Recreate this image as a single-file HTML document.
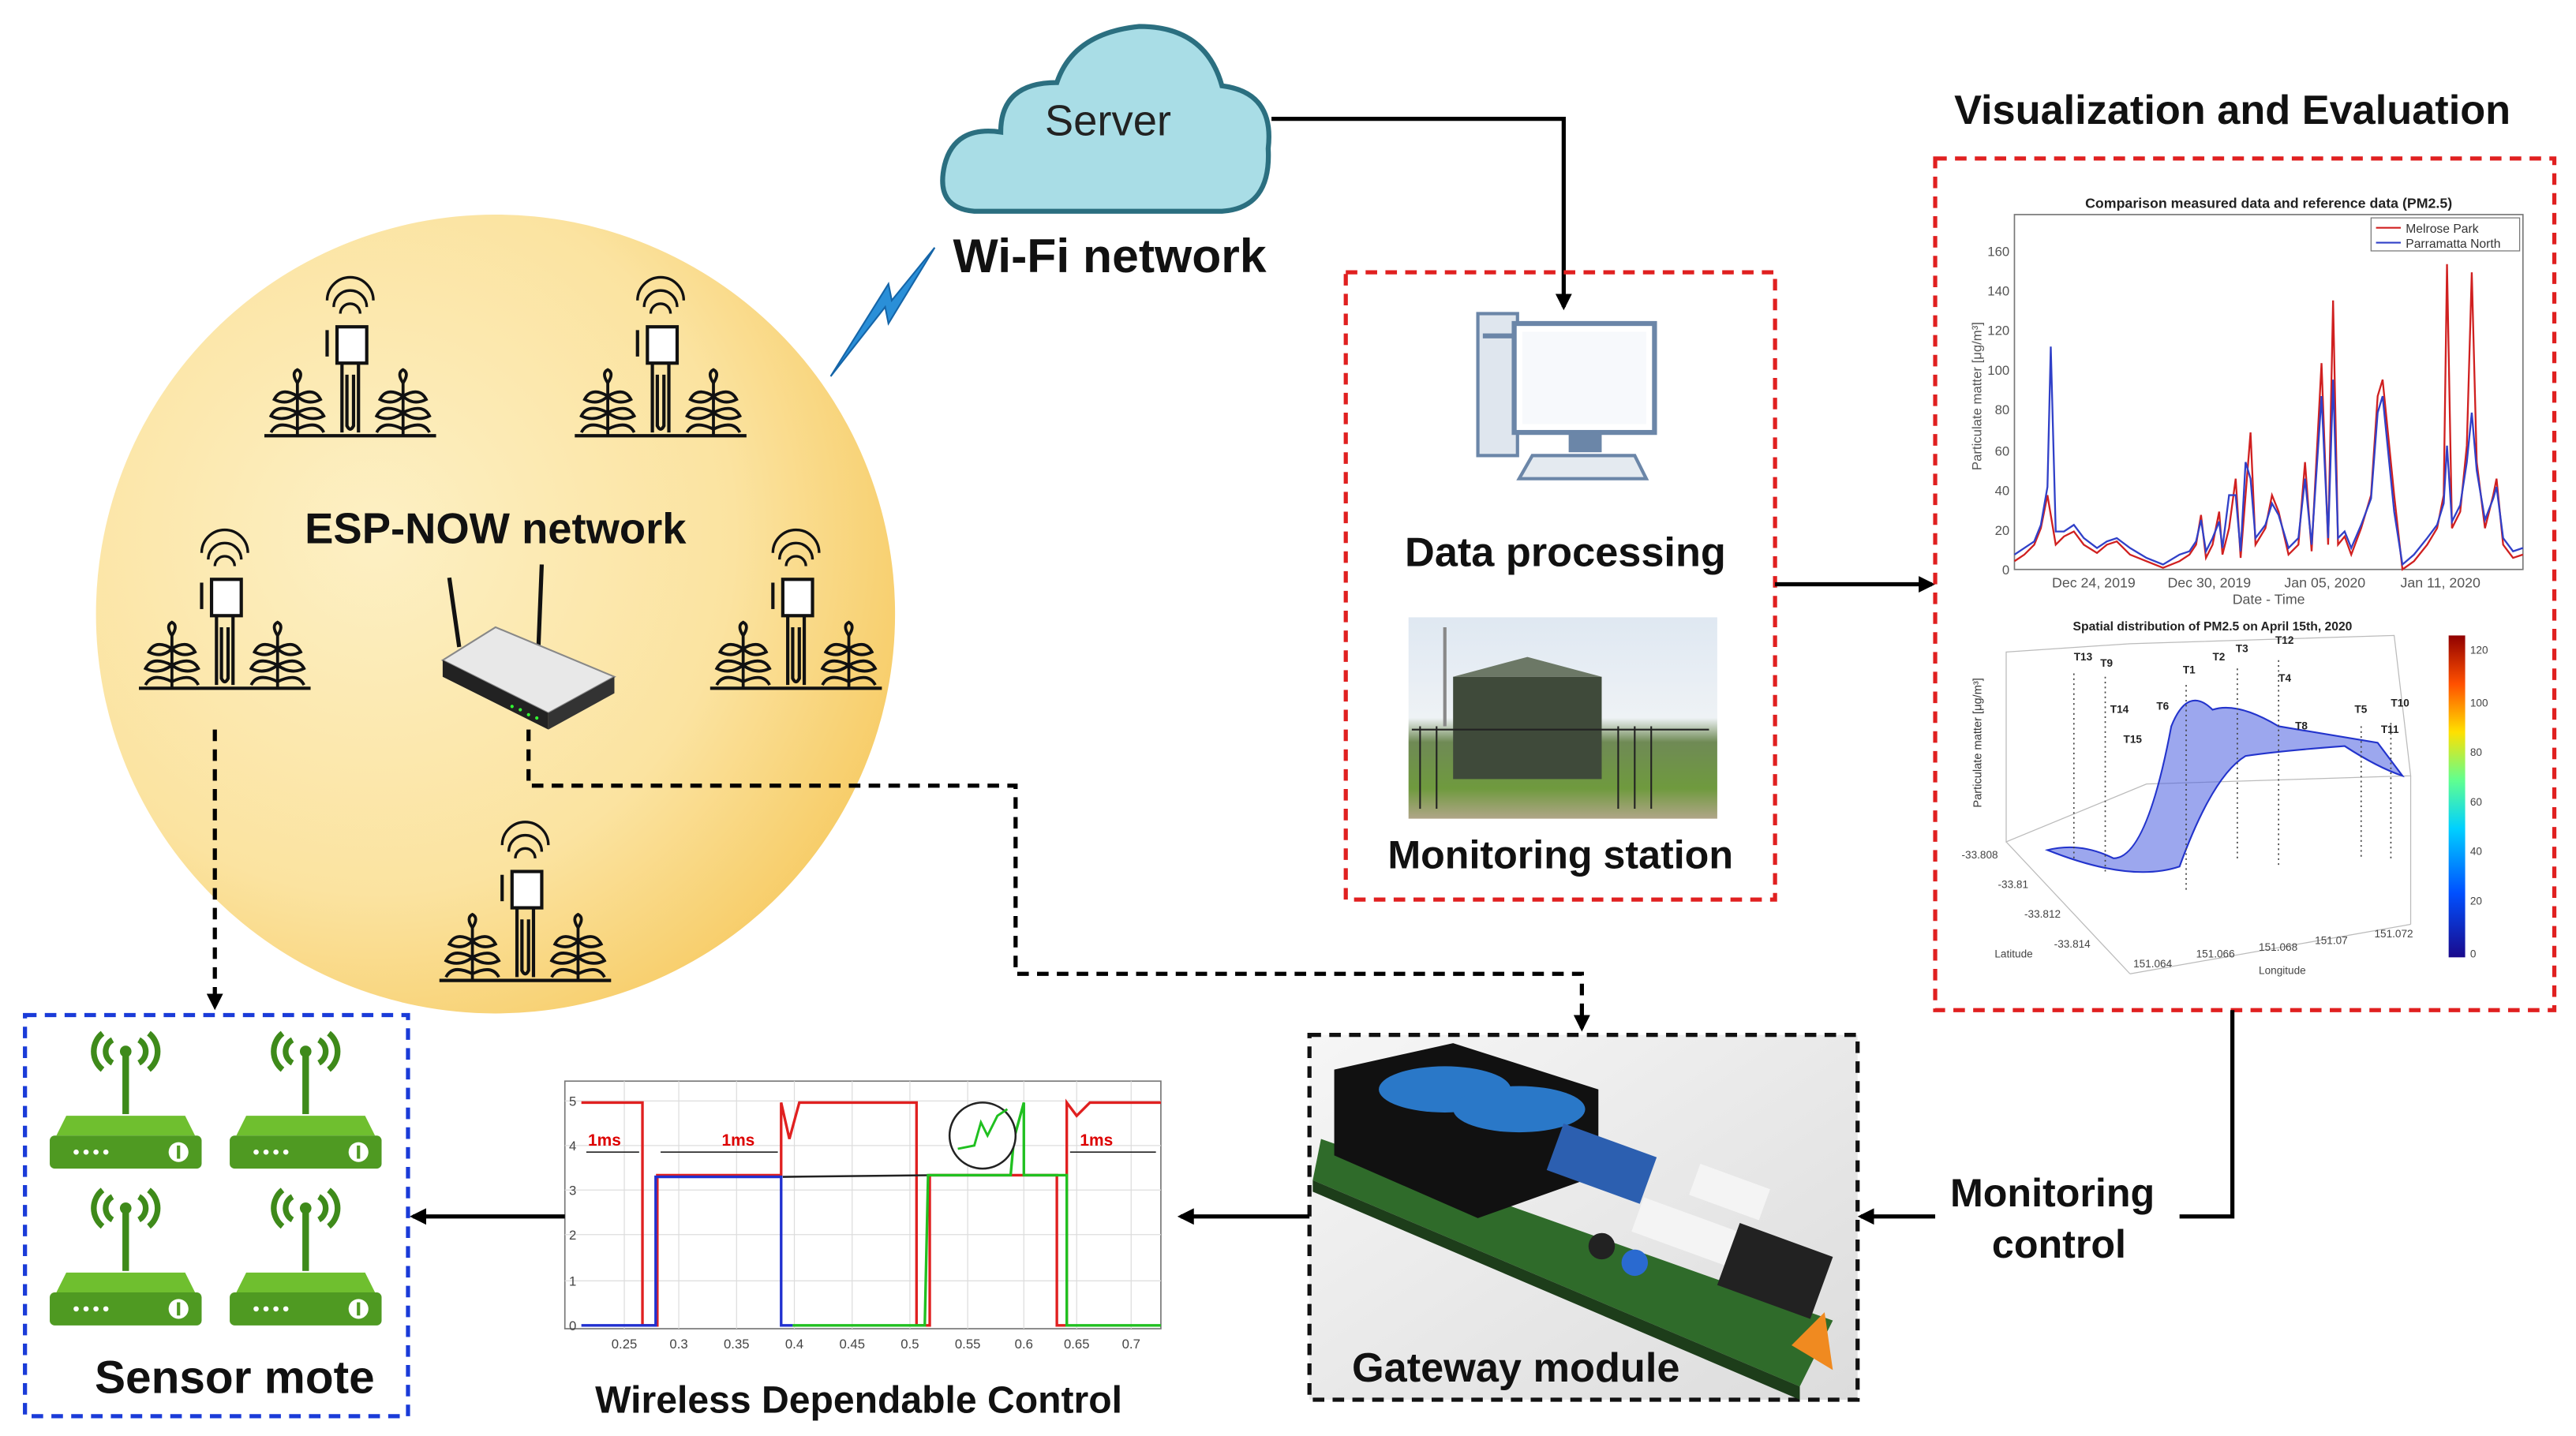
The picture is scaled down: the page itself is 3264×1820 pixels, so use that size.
<!DOCTYPE html>
<html><head><meta charset="utf-8"><style>
html,body{margin:0;padding:0;background:#fff;}
svg{display:block;}
text{font-family:"Liberation Sans",sans-serif;}
</style></head><body>
<svg width="3264" height="1820" viewBox="0 0 1560 870" xmlns="http://www.w3.org/2000/svg">
<defs>
<radialGradient id="yg" cx="0.35" cy="0.4" r="0.75">
<stop offset="0" stop-color="#fdf0c4"/><stop offset="0.6" stop-color="#fbe3a0"/><stop offset="1" stop-color="#f6c75a"/>
</radialGradient>
<linearGradient id="cb" x1="0" y1="0" x2="0" y2="1"><stop offset="0" stop-color="#1a0a8c"/><stop offset="0.2" stop-color="#0050ff"/><stop offset="0.4" stop-color="#00d0ff"/><stop offset="0.55" stop-color="#60ff90"/><stop offset="0.7" stop-color="#ffe000"/><stop offset="0.85" stop-color="#ff5000"/><stop offset="1" stop-color="#900000"/></linearGradient>
<linearGradient id="ph" x1="0" y1="0" x2="0" y2="1"><stop offset="0" stop-color="#dfe8f2"/><stop offset="0.5" stop-color="#eef2f5"/><stop offset="0.62" stop-color="#6f8a55"/><stop offset="0.85" stop-color="#6f9a3e"/><stop offset="1" stop-color="#b0a588"/></linearGradient>
<linearGradient id="pcbbg" x1="0" y1="0" x2="1" y2="1"><stop offset="0" stop-color="#f6f6f6"/><stop offset="1" stop-color="#dcdcdc"/></linearGradient>
<marker id="ah" markerWidth="10" markerHeight="10" refX="8" refY="5" orient="auto" markerUnits="userSpaceOnUse"><path d="M0,0 L10,5 L0,10 Z" fill="#000"/></marker>
<g id="sensor">
<path d="M-14,-40 a14,14 0 0 1 28,0" fill="none" stroke="#111" stroke-width="1.6"/>
<path d="M-10,-36 a10,10 0 0 1 20,0" fill="none" stroke="#111" stroke-width="1.6"/>
<path d="M-6,-32 a6,6 0 0 1 12,0" fill="none" stroke="#111" stroke-width="1.6"/>
<rect x="-8" y="-24" width="18" height="22" fill="#fff" stroke="#111" stroke-width="2"/>
<line x1="-14" y1="-22" x2="-14" y2="-6" stroke="#111" stroke-width="2"/>
<path d="M-5,-2 L-5,40 M5,-2 L5,40 M-2,5 L-2,36 Q0,40 2,36 L2,5" fill="none" stroke="#111" stroke-width="2"/>
<line x1="-52" y1="42" x2="52" y2="42" stroke="#111" stroke-width="2"/>
<g id="plant" fill="none" stroke="#111" stroke-width="1.8">
<line x1="-32" y1="42" x2="-32" y2="10"/>
<path d="M-32,18 q-10,-6 -14,2 q8,4 14,-2 M-32,18 q10,-6 14,2 q-8,4 -14,-2 M-32,28 q-12,-6 -16,2 q8,4 16,-2 M-32,28 q12,-6 16,2 q-8,4 -16,-2 M-32,38 q-12,-6 -16,2 M-32,38 q12,-6 16,2 M-32,10 q-4,-6 0,-8 q4,2 0,8"/>
</g>
<use href="#plant" x="64"/>
</g>
<g id="mote">
<path d="M-14,-52 a14,14 0 0 1 0,-22 M14,-52 a14,14 0 0 0 0,-22 M-8,-56 a8,8 0 0 1 0,-14 M8,-56 a8,8 0 0 0 0,-14" fill="none" stroke="#3e8a1a" stroke-width="3.5"/>
<circle cx="0" cy="-63" r="3.5" fill="#3e8a1a"/>
<rect x="-2" y="-63" width="4" height="38" fill="#3e8a1a"/>
<path d="M-42,-12 L-36,-24 L36,-24 L42,-12 Z" fill="#6fbf2f"/>
<rect x="-46" y="-12" width="92" height="20" rx="3" fill="#4f9a22"/>
<circle cx="-30" cy="-2" r="1.6" fill="#fff"/><circle cx="-24" cy="-2" r="1.6" fill="#fff"/><circle cx="-18" cy="-2" r="1.6" fill="#fff"/><circle cx="-12" cy="-2" r="1.6" fill="#fff"/>
<circle cx="32" cy="-2" r="6" fill="#fff"/><rect x="31" y="-6" width="2" height="8" fill="#4f9a22"/>
</g>
</defs>

<circle cx="300" cy="372" r="242" fill="url(#yg)"/>
<use href="#sensor" x="212" y="222"/>
<use href="#sensor" x="400" y="222"/>
<use href="#sensor" x="136" y="375"/>
<use href="#sensor" x="482" y="375"/>
<use href="#sensor" x="318" y="552"/>
<text x="300" y="329" font-size="26" font-weight="bold" text-anchor="middle" fill="#111">ESP-NOW network</text>
<line x1="278" y1="392" x2="272" y2="350" stroke="#111" stroke-width="2.5"/>
<line x1="326" y1="392" x2="328" y2="342" stroke="#111" stroke-width="2.5"/>
<path d="M268,400 L300,380 L372,410 L332,432 Z" fill="#e8e8e8" stroke="#888"/>
<path d="M268,400 L332,432 L332,442 L268,410 Z" fill="#222"/>
<path d="M332,432 L372,410 L372,420 L332,442 Z" fill="#333"/>
<g fill="#3f3"><circle cx="310" cy="428" r="1"/><circle cx="315" cy="430" r="1"/><circle cx="320" cy="433" r="1"/><circle cx="325" cy="435" r="1"/></g>

<path d="M503,228 L536,186 L538,196 L566,150 L540,182 L538,172 Z" fill="#2a8fd8" stroke="#1565a8" stroke-width="1"/>

<path d="M590,128 Q566,126 572,100 Q578,76 606,80 Q606,50 640,50 Q650,20 690,16 Q730,16 740,52 Q772,56 768,90 Q770,126 740,128 Z" fill="#a9dde6" stroke="#2b6f80" stroke-width="3"/>
<text x="671" y="82" font-size="26" text-anchor="middle" fill="#222">Server</text>
<text x="672" y="165" font-size="29" font-weight="bold" text-anchor="middle" fill="#111">Wi-Fi network</text>

<polyline points="770,72 947,72 947,186" fill="none" stroke="#000" stroke-width="2.5" marker-end="url(#ah)"/>

<rect x="815" y="165" width="260" height="380" fill="none" stroke="#e02020" stroke-width="2.5" stroke-dasharray="7,5"/>
<rect x="895" y="190" width="24" height="86" fill="#dfe6ee" stroke="#6b86a8" stroke-width="2"/>
<rect x="898" y="202" width="18" height="3" fill="#6b86a8"/>
<rect x="917" y="196" width="85" height="66" fill="#fff" stroke="#6b86a8" stroke-width="3"/>
<rect x="922" y="201" width="75" height="56" fill="#f7f9fc"/>
<rect x="950" y="262" width="20" height="12" fill="#6b86a8"/>
<path d="M928,276 L990,276 L997,290 L920,290 Z" fill="#e4eaf0" stroke="#6b86a8" stroke-width="2"/>
<text x="948" y="343" font-size="25" font-weight="bold" text-anchor="middle" fill="#111">Data processing</text>
<rect x="853" y="374" width="187" height="122" fill="url(#ph)"/>
<rect x="880" y="410" width="90" height="62" fill="#3f4a3a"/>
<path d="M880,410 L925,398 L970,410 Z" fill="#6c7866"/>
<g stroke="#222" stroke-width="1"><line x1="860" y1="440" x2="860" y2="490"/><line x1="870" y1="440" x2="870" y2="490"/><line x1="980" y1="440" x2="980" y2="490"/><line x1="990" y1="440" x2="990" y2="490"/><line x1="1000" y1="440" x2="1000" y2="490"/><line x1="855" y1="442" x2="1035" y2="442"/></g>
<line x1="875" y1="380" x2="875" y2="440" stroke="#888" stroke-width="2"/>
<text x="945" y="526" font-size="24" font-weight="bold" text-anchor="middle" fill="#111">Monitoring station</text>

<line x1="1075" y1="354" x2="1170" y2="354" stroke="#000" stroke-width="2.5" marker-end="url(#ah)"/>

<text x="1352" y="75" font-size="25" font-weight="bold" text-anchor="middle" fill="#111">Visualization and Evaluation</text>
<rect x="1172" y="96" width="375" height="516" fill="none" stroke="#e02020" stroke-width="2.5" stroke-dasharray="7,5"/>

<text x="1374" y="126" font-size="8.5" font-weight="bold" text-anchor="middle" fill="#222">Comparison measured data and reference data (PM2.5)</text>
<rect x="1220" y="130" width="308" height="215" fill="#fff" stroke="#777" stroke-width="0.8"/>
<g font-size="8" fill="#555" text-anchor="end">
<text x="1217" y="348">0</text><text x="1217" y="324">20</text><text x="1217" y="300">40</text><text x="1217" y="276">60</text><text x="1217" y="251">80</text><text x="1217" y="227">100</text><text x="1217" y="203">120</text><text x="1217" y="179">140</text><text x="1217" y="155">160</text>
</g>
<text x="1200" y="240" font-size="8" fill="#555" text-anchor="middle" transform="rotate(-90 1200 240)">Particulate matter [μg/m³]</text>
<g font-size="8.5" fill="#555" text-anchor="middle"><text x="1268" y="356">Dec 24, 2019</text><text x="1338" y="356">Dec 30, 2019</text><text x="1408" y="356">Jan 05, 2020</text><text x="1478" y="356">Jan 11, 2020</text><text x="1374" y="366">Date - Time</text></g>
<polyline fill="none" stroke="#d02020" stroke-width="1.1" points="1220,340 1226,336 1232,330 1236,320 1240,300 1242,312 1245,330 1250,325 1256,322 1262,330 1270,335 1276,330 1282,328 1290,336 1300,340 1310,344 1320,340 1326,336 1330,330 1333,312 1336,338 1340,330 1344,310 1346,336 1350,320 1354,290 1357,338 1360,300 1363,262 1366,330 1372,320 1376,300 1380,310 1386,336 1392,330 1396,280 1400,334 1406,220 1410,330 1413,182 1416,330 1420,325 1424,336 1430,320 1436,300 1440,240 1443,230 1446,260 1450,300 1455,345 1462,340 1470,330 1476,320 1480,300 1482,160 1485,320 1490,310 1494,270 1497,165 1500,280 1505,320 1510,300 1512,290 1516,330 1522,338 1528,336"/>
<polyline fill="none" stroke="#3040c8" stroke-width="1.1" points="1220,336 1226,332 1232,328 1236,318 1240,295 1242,210 1245,322 1250,322 1256,318 1262,326 1270,332 1276,328 1282,326 1290,332 1300,338 1310,342 1320,336 1326,334 1330,328 1333,315 1336,334 1340,326 1344,316 1346,332 1350,300 1354,300 1357,334 1360,280 1363,290 1366,326 1372,318 1376,305 1380,312 1386,332 1392,326 1396,290 1400,330 1406,240 1410,326 1413,230 1416,326 1420,322 1424,332 1430,318 1436,302 1440,250 1443,240 1446,270 1450,310 1455,342 1462,336 1470,326 1476,318 1480,305 1482,270 1485,316 1490,306 1494,280 1497,250 1500,285 1505,315 1510,302 1512,295 1516,326 1522,334 1528,332"/>
<rect x="1436" y="132" width="90" height="20" fill="#fff" stroke="#777" stroke-width="0.6"/>
<line x1="1439" y1="138" x2="1454" y2="138" stroke="#d02020"/><line x1="1439" y1="147" x2="1454" y2="147" stroke="#3040c8"/>
<text x="1457" y="141" font-size="7.5" fill="#333">Melrose Park</text><text x="1457" y="150" font-size="7.5" fill="#333">Parramatta North</text>

<text x="1340" y="382" font-size="7.5" font-weight="bold" text-anchor="middle" fill="#222">Spatial distribution of PM2.5 on April 15th, 2020</text>
<g stroke="#bbb" stroke-width="0.6" fill="none">
<path d="M1215,395 L1290,390 L1450,385 L1460,470 L1300,475 L1215,510 Z"/>
<line x1="1215" y1="510" x2="1290" y2="590"/><line x1="1290" y1="590" x2="1460" y2="560"/><line x1="1460" y1="470" x2="1460" y2="560"/>
</g>
<path d="M1240,515 Q1260,510 1280,520 Q1300,520 1315,440 Q1325,415 1340,430 Q1355,425 1380,440 Q1410,445 1440,450 L1455,470 Q1440,465 1420,452 Q1380,455 1360,458 Q1340,470 1320,525 Q1290,535 1240,515 Z" fill="#4a5ee0" fill-opacity="0.55" stroke="#2233cc" stroke-width="1"/>
<g stroke="#444" stroke-width="0.8" stroke-dasharray="1,2"><line x1="1256" y1="408" x2="1256" y2="520"/><line x1="1275" y1="410" x2="1275" y2="530"/><line x1="1324" y1="415" x2="1324" y2="540"/><line x1="1355" y1="405" x2="1355" y2="520"/><line x1="1380" y1="400" x2="1380" y2="525"/><line x1="1430" y1="440" x2="1430" y2="520"/><line x1="1448" y1="438" x2="1448" y2="520"/></g>
<g font-size="6.5" font-weight="bold" fill="#222"><text x="1256" y="400">T13</text><text x="1272" y="404">T9</text><text x="1322" y="408">T1</text><text x="1340" y="400">T2</text><text x="1354" y="395">T3</text><text x="1378" y="390">T12</text><text x="1380" y="413">T4</text><text x="1278" y="432">T14</text><text x="1306" y="430">T6</text><text x="1286" y="450">T15</text><text x="1390" y="442">T8</text><text x="1426" y="432">T5</text><text x="1448" y="428">T10</text><text x="1442" y="444">T11</text></g>
<text x="1200" y="450" font-size="7" fill="#333" text-anchor="middle" transform="rotate(-90 1200 450)">Particulate matter [μg/m³]</text>
<g font-size="6.5" fill="#444"><text x="1188" y="520">-33.808</text><text x="1210" y="538">-33.81</text><text x="1226" y="556">-33.812</text><text x="1244" y="574">-33.814</text><text x="1208" y="580">Latitude</text><text x="1292" y="586">151.064</text><text x="1330" y="580">151.066</text><text x="1368" y="576">151.068</text><text x="1402" y="572">151.07</text><text x="1438" y="568">151.072</text><text x="1368" y="590">Longitude</text></g>
<rect x="1483" y="385" width="10" height="195" fill="url(#cb)" transform="rotate(180 1488 482.5)"/>
<g font-size="6.5" fill="#444"><text x="1496" y="396">120</text><text x="1496" y="428">100</text><text x="1496" y="458">80</text><text x="1496" y="488">60</text><text x="1496" y="518">40</text><text x="1496" y="548">20</text><text x="1496" y="580">0</text></g>

<polyline points="1352,612 1352,737 1320,737" fill="none" stroke="#000" stroke-width="2.5"/>
<text x="1243" y="731" font-size="24" font-weight="bold" text-anchor="middle" fill="#111">Monitoring</text>
<text x="1247" y="762" font-size="24" font-weight="bold" text-anchor="middle" fill="#111">control</text>
<line x1="1172" y1="737" x2="1127" y2="737" stroke="#000" stroke-width="2.5" marker-end="url(#ah)"/>

<rect x="793" y="627" width="332" height="221" fill="url(#pcbbg)" stroke="#111" stroke-width="2.5" stroke-dasharray="7,5"/>
<path d="M800,690 L1110,800 L1090,840 L795,715 Z" fill="#2f6b2a"/>
<path d="M795,715 L1090,840 L1090,848 L795,722 Z" fill="#1d3d1a"/>
<path d="M808,648 L880,632 L968,660 L968,712 L895,738 L808,700 Z" fill="#111"/>
<ellipse cx="875" cy="660" rx="40" ry="14" fill="#2a78c8"/><ellipse cx="920" cy="672" rx="40" ry="14" fill="#2a78c8"/>
<rect x="940" y="690" width="60" height="30" fill="#2c5fb0" transform="rotate(20 970 705)"/>
<rect x="990" y="735" width="60" height="22" fill="#f4f4f4" transform="rotate(20 1020 746)"/>
<rect x="1025" y="712" width="45" height="20" fill="#f4f4f4" transform="rotate(20 1047 722)"/>
<rect x="1045" y="750" width="60" height="40" fill="#222" transform="rotate(20 1075 770)"/>
<circle cx="990" cy="765" r="8" fill="#2a6ad0"/><circle cx="970" cy="755" r="8" fill="#222"/>
<path d="M1085,815 L1105,795 L1110,830 Z" fill="#f08a20"/>
<text x="918" y="837" font-size="25" font-weight="bold" text-anchor="middle" fill="#111">Gateway module</text>

<line x1="793" y1="737" x2="715" y2="737" stroke="#000" stroke-width="2.5" marker-end="url(#ah)"/>

<rect x="342" y="655" width="361" height="150" fill="#fff" stroke="#777" stroke-width="0.8"/>
<g stroke="#ddd" stroke-width="0.6"><line x1="342" y1="667" x2="703" y2="667"/><line x1="342" y1="694" x2="703" y2="694"/><line x1="342" y1="721" x2="703" y2="721"/><line x1="342" y1="748" x2="703" y2="748"/><line x1="342" y1="776" x2="703" y2="776"/>
<line x1="378" y1="655" x2="378" y2="805"/><line x1="411" y1="655" x2="411" y2="805"/><line x1="446" y1="655" x2="446" y2="805"/><line x1="481" y1="655" x2="481" y2="805"/><line x1="516" y1="655" x2="516" y2="805"/><line x1="551" y1="655" x2="551" y2="805"/><line x1="586" y1="655" x2="586" y2="805"/><line x1="620" y1="655" x2="620" y2="805"/><line x1="652" y1="655" x2="652" y2="805"/><line x1="685" y1="655" x2="685" y2="805"/></g>
<g font-size="8" fill="#444" text-anchor="end"><text x="349" y="670">5</text><text x="349" y="697">4</text><text x="349" y="724">3</text><text x="349" y="751">2</text><text x="349" y="779">1</text><text x="349" y="806">0</text></g>
<g font-size="8" fill="#444" text-anchor="middle"><text x="378" y="817">0.25</text><text x="411" y="817">0.3</text><text x="446" y="817">0.35</text><text x="481" y="817">0.4</text><text x="516" y="817">0.45</text><text x="551" y="817">0.5</text><text x="586" y="817">0.55</text><text x="620" y="817">0.6</text><text x="652" y="817">0.65</text><text x="685" y="817">0.7</text></g>
<polyline fill="none" stroke="#e02020" stroke-width="1.6" points="352,668 389,668 389,803 398,803 398,712 473,712 473,668 478,690 484,668 555,668 555,803 563,803 563,712 640,712 640,803 646,803 646,668 652,676 660,668 703,668"/>
<polyline fill="none" stroke="#2030d0" stroke-width="1.6" points="352,803 397,803 397,713 473,713 473,803 480,803"/>
<polyline fill="none" stroke="#222" stroke-width="1.2" points="474,713 563,712"/>
<polyline fill="none" stroke="#20c020" stroke-width="1.6" points="480,803 560,803 562,712 612,712 614,690 620,668 620,712 646,712 646,803 703,803"/>
<circle cx="595" cy="688" r="20" fill="#fff" stroke="#222" stroke-width="1.2"/>
<polyline fill="none" stroke="#20c020" stroke-width="1.4" points="580,696 590,694 594,680 598,688 604,676 610,672"/>
<g font-size="10" font-weight="bold" fill="#d00"><text x="356" y="694">1ms</text><text x="437" y="694">1ms</text><text x="654" y="694">1ms</text></g>
<g stroke="#222" stroke-width="0.8"><line x1="355" y1="698" x2="387" y2="698"/><line x1="400" y1="698" x2="471" y2="698"/><line x1="648" y1="698" x2="700" y2="698"/></g>
<text x="520" y="856" font-size="23" font-weight="bold" text-anchor="middle" fill="#111">Wireless Dependable Control</text>

<line x1="342" y1="737" x2="250" y2="737" stroke="#000" stroke-width="2.5" marker-end="url(#ah)"/>

<rect x="15" y="615" width="232" height="243" fill="#fff" stroke="#1a3bd8" stroke-width="2.5" stroke-dasharray="7,5"/>
<use href="#mote" x="76" y="700"/>
<use href="#mote" x="185" y="700"/>
<use href="#mote" x="76" y="795"/>
<use href="#mote" x="185" y="795"/>
<text x="142" y="844" font-size="28" font-weight="bold" text-anchor="middle" fill="#111">Sensor mote</text>

<line x1="130" y1="442" x2="130" y2="610" stroke="#000" stroke-width="2.5" stroke-dasharray="7,5" marker-end="url(#ah)"/>
<polyline points="320,442 320,476 615,476 615,590 958,590 958,623" fill="none" stroke="#000" stroke-width="2.5" stroke-dasharray="7,5" marker-end="url(#ah)"/>
</svg>
</body></html>
